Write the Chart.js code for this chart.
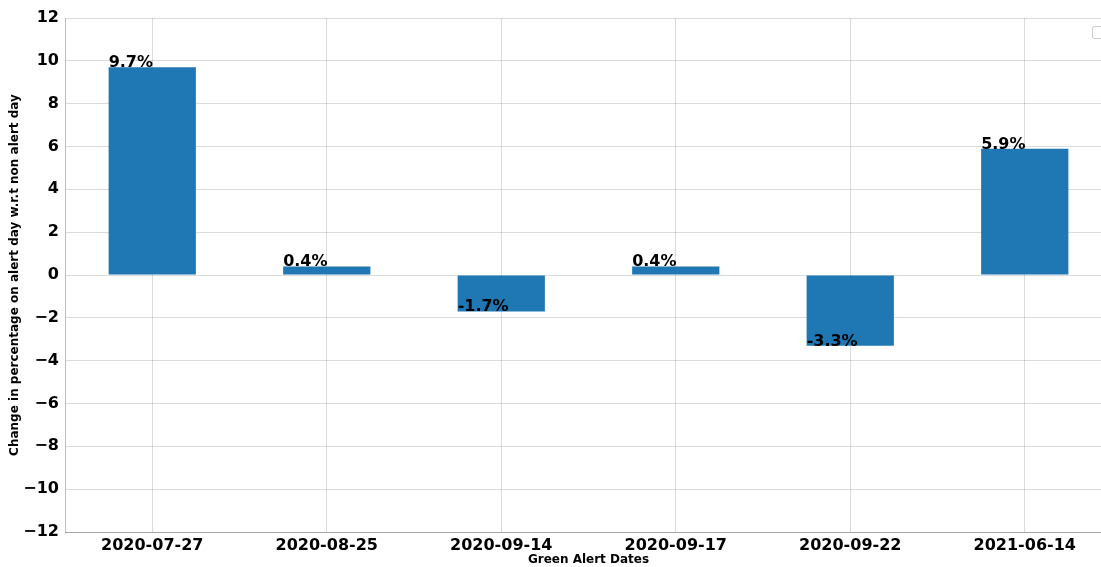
<!DOCTYPE html>
<html>
<head>
<meta charset="utf-8">
<script src="https://cdn.jsdelivr.net/npm/chart.js@4"></script>
<style>
    html, body { margin: 0; padding: 0; background: #fff; overflow: hidden; }
    #wrap { width: 1113px; height: 567px; }
</style>
</head>
<body>
<div id="wrap"><canvas id="chart"></canvas></div>
<script>
// =====================
// DATA
// =====================

const alertDates = ['2020-07-27', '2020-08-25', '2020-09-14', '2020-09-17', '2020-09-22', '2021-06-14'];
const changePct = [9.7, 0.4, -1.7, 0.4, -3.3, 5.9];
const yTicks = [-12, -10, -8, -6, -4, -2, 0, 2, 4, 6, 8, 10, 12];

const FONT = "'DejaVu Sans', sans-serif";
const gridColor = 'rgba(0, 0, 0, 0.14)';

// =====================
// PLUGINS
// =====================

// value labels: left aligned on the bar's left edge, baseline at the value
const valueLabels = {
    id: 'valueLabels',
    afterDraw(chart) {
        const ctx = chart.ctx;
        const meta = chart.getDatasetMeta(0);
        ctx.save();
        ctx.font = 'bold 16px ' + FONT;
        ctx.fillStyle = '#000';
        ctx.textAlign = 'left';
        ctx.textBaseline = 'alphabetic';
        meta.data.forEach((bar, i) => {
            const left = bar.x - bar.width / 2;
            ctx.fillText(changePct[i].toFixed(1) + '%', left, bar.y);
        });
        // empty legend frame, top right
        const area = chart.chartArea;
        ctx.strokeStyle = 'rgba(0, 0, 0, 0.2)';
        ctx.lineWidth = 1;
        ctx.beginPath();
        ctx.roundRect(area.right - 19.5, area.top + 8.5, 14, 12, 2);
        ctx.stroke();
        ctx.restore();
    }
};

// =====================
// CHART
// =====================

new Chart(document.getElementById('chart'), {
    type: 'bar',
    data: {
        labels: alertDates,
        datasets: [{
            data: changePct,
            backgroundColor: '#1f77b4',
            borderWidth: 0,
            barPercentage: 0.5,
            categoryPercentage: 1.0,
        }],
    },
    options: {
        responsive: true,
        maintainAspectRatio: false,
        animation: false,
        layout: { padding: { top: 18, left: 0, right: 1, bottom: 0 } },
        plugins: {
            legend: { display: false },
            tooltip: { enabled: false },
        },
        scales: {
            x: {
                z: 1,
                grid: { color: gridColor, drawTicks: false, offset: false },
                border: { color: 'rgba(0, 0, 0, 0.25)' },
                ticks: {
                    color: '#000',
                    font: { family: FONT, size: 16, weight: 'bold' },
                    padding: 4,
                    maxRotation: 0,
                },
                title: {
                    display: true,
                    text: 'Green Alert Dates',
                    color: '#000',
                    font: { family: FONT, size: 12, weight: 'bold' },
                    padding: { top: 0, bottom: 0 },
                },
                afterFit(scale) { scale.height = 35; },
            },
            y: {
                z: 1,
                min: -12,
                max: 12,
                afterBuildTicks(scale) {
                    scale.ticks = yTicks.map(v => ({ value: v }));
                },
                grid: { color: gridColor, drawTicks: false },
                border: { color: 'rgba(0, 0, 0, 0.25)' },
                ticks: {
                    color: '#000',
                    font: { family: FONT, size: 16, weight: 'bold' },
                    padding: 6,
                    callback: v => String(v).replace('-', '\u2212'),
                },
                title: {
                    display: true,
                    text: 'Change in percentage on alert day w.r.t non alert day',
                    color: '#000',
                    font: { family: FONT, size: 12, weight: 'bold' },
                    padding: { top: 8, bottom: 0 },
                },
                afterFit(scale) { scale.width = 65; },
            },
        },
    },
    plugins: [valueLabels],
});
</script>
</body>
</html>
